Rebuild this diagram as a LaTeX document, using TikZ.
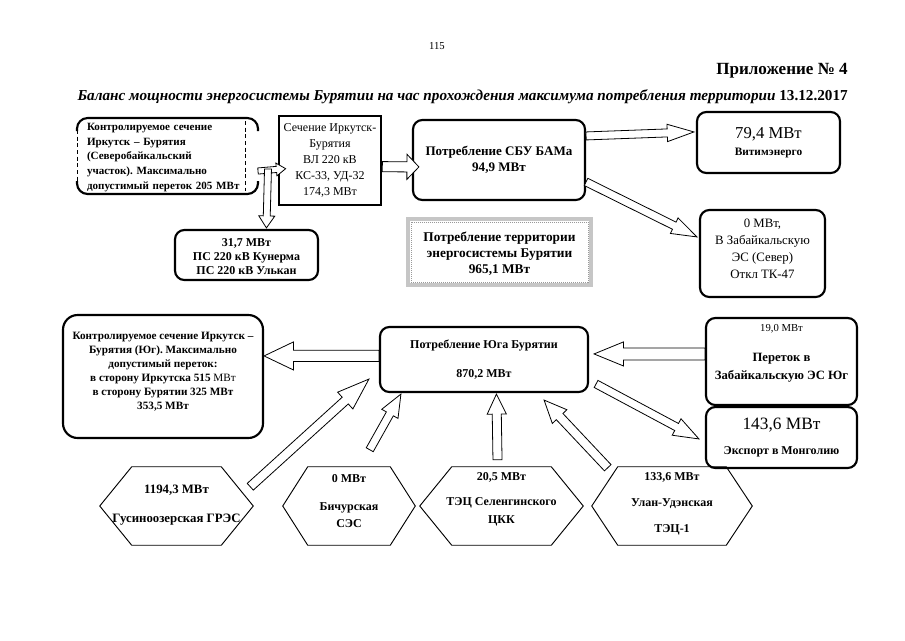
\documentclass[tikz,border=0pt]{standalone}
\usepackage{fontspec}
\setmainfont{Liberation Serif}
\usetikzlibrary{calc}
\frenchspacing
\newcommand\myfb{\fontsize{9}{11}\selectfont\bfseries}
\newcommand\myfr{\fontsize{9}{11}\selectfont\mdseries}
\tikzset{
  sz/.style 2 args={minimum width=#1*0.75pt, minimum height=#2*0.75pt},
  rbox/.style={draw, line width=1.6pt, rounded corners=7pt, align=center, inner sep=0pt, font=\myfb},
  sbox/.style={draw, line width=2pt, align=center, inner sep=0pt, font=\myfr},
  txt/.style={align=center, inner sep=0pt, font=\myfb},
  plain/.style={draw=none, inner sep=0pt, align=center, font=\myfb},
  barrow/.style={draw=black, fill=white, line width=0.6pt, line join=miter},
  hexline/.style={draw=black, line width=0.7pt},
}
% start, tip, shaft half width, head half width, head length
\newcommand\blockarrow[5]{%
  \coordinate (ba-s) at (#1);
  \coordinate (ba-t) at (#2);
  \coordinate (ba-h) at ($(ba-t)!#5!(ba-s)$);
  \draw[barrow] ($(ba-s)!#3!90:(ba-t)$) -- ($(ba-h)!#3!-90:(ba-s)$) -- ($(ba-h)!#4!-90:(ba-s)$)
     -- (ba-t) -- ($(ba-h)!#4!90:(ba-s)$) -- ($(ba-h)!#3!90:(ba-s)$) -- ($(ba-s)!#3!-90:(ba-t)$) -- cycle;
}
% hexagon outline around node #1 with inset #2 (px)
\newcommand\hexa[2]{%
  \draw[hexline] (#1.west) -- ($(#1.north west)+(#2,0)$) -- ($(#1.north east)+(-#2,0)$) -- (#1.east)
     -- ($(#1.south east)+(-#2,0)$) -- ($(#1.south west)+(#2,0)$) -- cycle;
}
\begin{document}
\begin{tikzpicture}[x=0.75pt,y=-0.75pt]
\useasboundingbox (0,0) rectangle (905,640);
\fill[white] (0,0) rectangle (905,640);

% header
\node[font=\fontsize{8}{10}\selectfont] (pg) at (437,46) {115};
\node[font=\fontsize{12.8}{14}\selectfont\bfseries, anchor=east, inner sep=0pt] (app) at (848,71) {Приложение № 4};
\node[font=\fontsize{11.4}{13}\selectfont\bfseries\itshape, anchor=east, inner sep=0pt] (title) at (848,97)
  {Баланс мощности энергосистемы Бурятии на час прохождения максимума потребления территории {\upshape 13.12.2017}};

% ---------- top part ----------
\node[txt, align=left, text width=162*0.75pt, font=\fontsize{8.3}{11.2}\selectfont\bfseries] (b1) at (168,157.5)
  {Контролируемое сечение\\Иркутск – Бурятия\\(Северобайкальский\\участок). Максимально\\допустимый переток 205 МВт};
\coordinate (b1nw) at ($(b1.center)+(-91,-39.5)$);
\coordinate (b1ne) at ($(b1.center)+(90,-39.5)$);
\coordinate (b1sw) at ($(b1.center)+(-91,36.5)$);
\coordinate (b1se) at ($(b1.center)+(90,36.5)$);
\draw[line width=1.6pt, rounded corners=8pt] ($(b1nw)+(0,13)$) -- (b1nw) -- (b1ne) -- ($(b1ne)+(0,13)$);
\draw[line width=1.6pt, rounded corners=8pt] ($(b1sw)+(0,-13)$) -- (b1sw) -- (b1se) -- ($(b1se)+(0,-13)$);
\draw[line width=0.6pt, dash pattern=on 3pt off 2pt] ($(b1nw)+(0,12)$) -- ($(b1sw)+(0,-12)$);
\draw[line width=0.6pt, dash pattern=on 3pt off 2pt] ($(b1ne)+(-13,3)$) -- ($(b1se)+(-13,-3)$);

\node[sbox, sz={102}{89}, font=\fontsize{9}{12}\selectfont] (b2) at (330,160.5)
  {Сечение Иркутск-\\Бурятия\\ВЛ 220 кВ\\КС-33, УД-32\\174,3 МВт};

\node[rbox, sz={172}{80}, font=\fontsize{9.8}{11.5}\selectfont\bfseries] (b3) at (499,160) {Потребление СБУ БАМа\\[0.5pt]94,9 МВт};

\node[rbox, sz={143}{61}] (b4) at (768.5,142.5)
  {{\fontsize{12.5}{13}\selectfont\mdseries 79,4 МВт}\\[2pt]{\fontsize{8.5}{9}\selectfont Витимэнерго}};

\node[rbox, sz={125}{87}] (b5) at (762.5,253.5) {};
\node[txt, font=\fontsize{9.6}{12.75}\selectfont\mdseries] (b5t) at ($(b5.center)+(0,-5)$)
  {0 МВт,\\В Забайкальскую\\ЭС (Север)\\Откл ТК-47};

\node[sz={183}{66}, draw=gray!45, line width=3pt, align=center, inner sep=0pt,
      font=\fontsize{10}{12}\selectfont\bfseries] (b6) at (499.5,252) {};
\node[txt, font=\fontsize{10}{12}\selectfont\bfseries] (b6t) at ($(b6.center)+(0,2)$)
  {Потребление территории\\энергосистемы Бурятии\\965,1 МВт};
\draw[gray!80, line width=0.5pt, dash pattern=on 1pt off 0.5pt] ($(b6.north west)+(5,5)$) rectangle ($(b6.south east)+(-5,-5)$);

\node[rbox, sz={143}{50}] (b7) at (246.5,255) {};
\node[txt, font=\fontsize{9}{10.5}\selectfont\bfseries] (b7t) at ($(b7.center)+(0,2)$)
  {31,7 МВт\\ПС 220 кВ Кунерма\\ПС 220 кВ Улькан};

% ---------- bottom part ----------
\node[rbox, sz={200}{123}, rounded corners=11pt] (b8) at (163,376.5) {};
\node[txt, font=\fontsize{8.4}{10.5}\selectfont\bfseries] (b8t) at ($(b8.center)+(0,-5)$)
  {Контролируемое сечение Иркутск –\\Бурятия (Юг). Максимально\\допустимый переток:\\в сторону Иркутска 515 {\mdseries МВт}\\в сторону Бурятии 325 МВт\\353,5 МВт};

\node[rbox, sz={208}{65}] (b9) at (484,359.5) {Потребление Юга Бурятии\\[11pt]870,2 МВт};

\node[rbox, sz={151}{87}] (b10) at (781.5,361.5) {};
\node[txt, font=\fontsize{9.5}{11.5}\selectfont\bfseries] (b10t) at ($(b10.center)+(0,-8)$)
  {{\fontsize{8}{9}\selectfont\mdseries 19,0 МВт}\\[11pt]Переток в\\[2pt]Забайкальскую ЭС Юг};

\node[rbox, sz={151}{61}] (b11) at (781.5,437.5)
  {{\fontsize{13}{13}\selectfont\mdseries 143,6 МВт}\\[8pt]Экспорт в Монголию};

% hexagons
\node[plain, sz={153}{78}] (h1) at (176.5,506) {};
\node[plain, sz={132}{78}] (h2) at (349,506) {};
\node[plain, sz={163}{78}] (h3) at (501.5,506) {};
\node[plain, sz={160}{78}] (h4) at (672,506) {};
\hexa{h1}{32}
\hexa{h2}{25}
\hexa{h3}{32}
\hexa{h4}{26}
\node[txt, font=\fontsize{9.6}{11}\selectfont\bfseries] (h1t) at ($(h1.center)+(0,-1)$) {1194,3 МВт\\[11pt]Гусиноозерская ГРЭС};
\node[txt] (h2t) at ($(h2.center)+(0,-5)$) {0 МВт\\[10pt]Бичурская\\[2pt]СЭС};
\node[txt] (h3t) at ($(h3.center)+(0,-7)$) {20,5 МВт\\[8pt]ТЭЦ Селенгинского\\[2pt]ЦКК};
\node[txt] (h4t) at ($(h4.center)+(0,-2)$) {133,6 МВт\\[8pt]Улан-Удэнская\\[9pt]ТЭЦ-1};

% ---------- block arrows ----------
\coordinate (a2s) at ($(b1ne)+(10,51)$);
\blockarrow{$(b1ne)+(0,53)$}{$(b2.north west)+(8,54)$}{2.3pt}{4.8pt}{7pt}
\blockarrow{a2s}{$(b7.north west)+(92.5,-1)$}{2.6pt}{6pt}{9pt}
\blockarrow{$(b2.north east)+(0,52)$}{$(b3.north west)+(7,48)$}{3.8pt}{9.4pt}{9pt}
\blockarrow{$(b3.north east)+(0,17)$}{$(b4.north west)+(-2,21)$}{3pt}{6.5pt}{20pt}
\blockarrow{$(b3.north east)+(0,63)$}{$(b5.north west)+(-2,28)$}{3pt}{6.5pt}{19pt}

\blockarrow{$(b9.north west)+(0,30)$}{$(b8.north east)+(0,42)$}{4.2pt}{10.5pt}{22pt}
\blockarrow{$(b10.north west)+(0,37)$}{$(b9.north east)+(5,28)$}{4.5pt}{9pt}{22pt}
\blockarrow{$(b9.north east)+(7,58)$}{$(b11.north west)+(-6,33)$}{3pt}{7pt}{19pt}
\blockarrow{$(h1.north east)+(-3,20)$}{$(b9.south west)+(-10,-14)$}{3.4pt}{8.5pt}{24pt}
\blockarrow{$(h2.north west)+(87,-17)$}{$(b9.south west)+(22,1)$}{3pt}{7pt}{17pt}
\blockarrow{$(h3.north)+(-4,-7)$}{$(b9.south west)+(117.5,1)$}{3.4pt}{7.2pt}{15pt}
\blockarrow{$(h4.north west)+(16,1)$}{$(b9.south east)+(-45,7)$}{3.4pt}{7.5pt}{17pt}
\end{tikzpicture}
\end{document}
